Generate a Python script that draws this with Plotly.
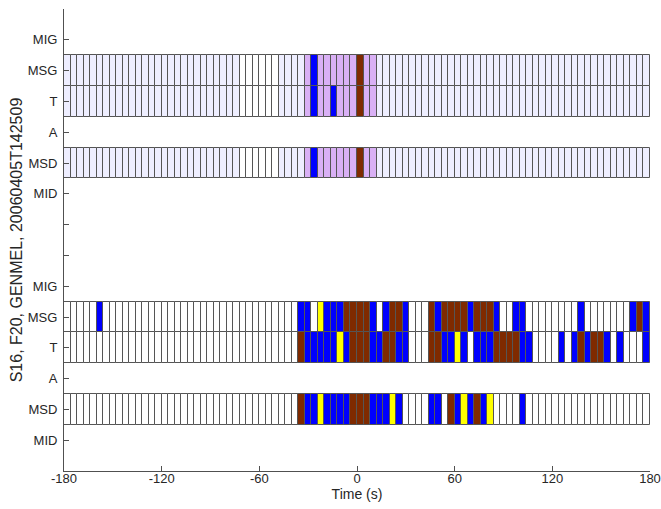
import plotly.graph_objects as go

# ---- data ----
cell_start = list(range(-180, 180, 4))          # 90 cells of 4 s
y_tickvals = list(range(1, 16))
y_ticktext = ["MID", "MSD", "A", "T", "MSG", "MIG", "", "",
              "MID", "MSD", "A", "T", "MSG", "MIG", ""]
x_tickvals = [-180, -120, -60, 0, 60, 120, 180]
x_ticktext = ["-180", "-120", "-60", "0", "60", "120", "180"]

# codes: w white, l lavender, p purple, b blue, r brown, y yellow
msg_up = "llllllllll" "llllllllll" "lllllllwww" "wwwllllpbp" "ppppprppll" + "l" * 40
t_up   = "llllllllll" "llllllllll" "lllllllwww" "wwwllllpbp" "pbppprppll" + "l" * 40
msd_up = "llllllllll" "llllllllll" "lllllllwww" "wwwllllpbp" "ppppprppll" + "l" * 40

msg_lo = "wwwwwbwwww" "wwwwwwwwww" "wwwwwwwwww" "wwwwwwbbwy" "bbbrrrrbwb" "rrbwwwrbrr" "rrbrrrbwwb" "bwwwwwwwwb" "wwwwwwwbrb"
t_lo   = "wwwwwwwwww" "wwwwwwwwww" "wwwwwwwwww" "wwwwwwrbbb" "bbybrrrbbr" "rbbwwwrrbb" "ybwbbbrrrr" "bbwwwwbwbr" "brrbwbwwwb"
msd_lo = "wwwwwwwwww" "wwwwwwwwww" "wwwwwwwwww" "wwwwwwrbby" "bbbbrrrbbb" "ybwwwwbbwr" "bybrbywwww" "bwwwwwwwww" "wwwwwwwwww"

rows = [  # (row centre, codes)
    (13, msg_up), (12, t_up), (10, msd_up),
    (5, msg_lo), (4, t_lo), (2, msd_lo),
]

palette = {"w": "#ffffff", "l": "#eeeeff", "p": "#d9b0f5",
           "b": "#0000ff", "r": "#7f2a00", "y": "#ffff00"}

fig = go.Figure()
for yc, codes in rows:
    assert len(codes) == 90
    fig.add_trace(go.Bar(
        x=[s + 2 for s in cell_start],
        y=[1] * 90,
        base=[yc - 0.5] * 90,
        width=4,
        marker=dict(color=[palette[c] for c in codes],
                    line=dict(color="#555555", width=1)),
        hoverinfo="skip",
        showlegend=False,
    ))

fam = "Liberation Sans, Arial, sans-serif"
tick_font = dict(family=fam, size=13, color="#262626")
xlab_font = dict(family=fam, size=14, color="#262626")
ylab_font = dict(family=fam, size=16, color="#262626")

fig.update_layout(
    width=661, height=509,
    margin=dict(l=64, r=11, t=9, b=38),
    paper_bgcolor="white", plot_bgcolor="white",
    barmode="overlay", bargap=0,
    font=tick_font,
    xaxis=dict(range=[-180, 180], tickvals=x_tickvals, ticktext=x_ticktext,
               ticks="inside", ticklen=5, automargin=False, ticklabelstandoff=-5,
               tickcolor="#505050", showline=True, linecolor="#505050", linewidth=1,
               showgrid=False, zeroline=False, tickfont=tick_font,
               title=dict(text="Time (s)", font=xlab_font, standoff=1)),
    yaxis=dict(range=[0, 15], tickvals=y_tickvals, ticktext=y_ticktext,
               ticks="inside", ticklen=5, tickcolor="#505050", automargin=False,
               ticklabelstandoff=3,
               showline=True, linecolor="#505050", linewidth=1,
               showgrid=False, zeroline=False, tickfont=tick_font,
               title=dict(text="S16, F20, GENMEL, 20060405T142509", font=ylab_font,
                          standoff=1)),
)

fig.write_html("out.html", config={"displayModeBar": False},
               post_script="document.body.style.margin='0';document.body.style.padding='0';")
